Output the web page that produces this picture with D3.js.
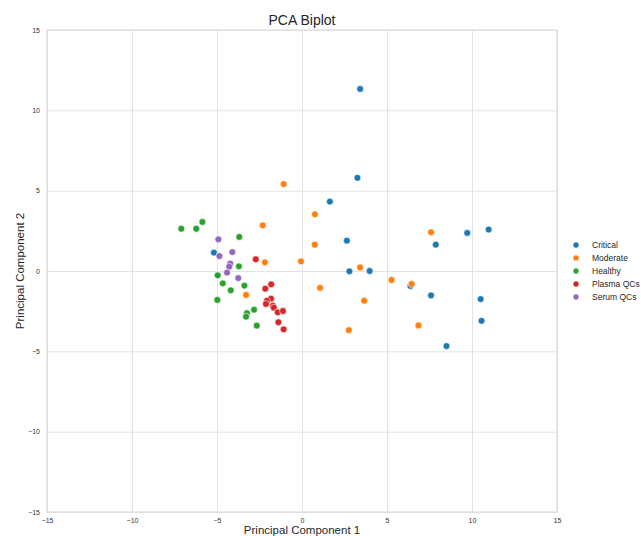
<!DOCTYPE html>
<html>
<head>
<meta charset="utf-8">
<script src="https://cdn.jsdelivr.net/npm/d3@7"></script>
<style>
  body { margin: 0; background: #fff; }
  svg { display: block; font-family: "Liberation Sans", Arial, sans-serif; }
</style>
</head>
<body>
<div id="chart"></div>
<script>
// Group order as in the legend
const groups = ["Critical", "Moderate", "Healthy", "Plasma QCs", "Serum QCs"]
const colors = ["#1f77b4", "#ff7f0e", "#2ca02c", "#d62728", "#9467bd"]

// PC1 / PC2 scores
const criticalPC1 = [3.42, 3.26, 1.64, 2.64, 2.79, 3.98, 7.87, 9.72, 10.98, 6.38, 7.59, 10.51, 10.56, 8.5, -5.18]
const criticalPC2 = [11.33, 5.8, 4.32, 1.89, -0.02, 0.0, 1.64, 2.37, 2.58, -0.93, -1.52, -1.75, -3.1, -4.67, 1.14]

const moderatePC1 = [0.76, 0.75, -0.06, 3.42, 1.06, 3.66, 2.75, 7.59, 5.27, 6.45, 6.85, -1.08, -2.31, -2.18, -3.29]
const moderatePC2 = [3.53, 1.64, 0.6, 0.22, -1.05, -1.85, -3.68, 2.41, -0.56, -0.81, -3.39, 5.41, 2.84, 0.54, -1.49]

const healthyPC1 = [-7.1, -6.22, -5.86, -3.69, -3.71, -4.96, -4.66, -4.19, -3.39, -4.98, -2.82, -3.24, -3.29, -2.66]
const healthyPC2 = [2.63, 2.63, 3.05, 2.12, 0.29, -0.27, -0.77, -1.2, -0.91, -1.8, -2.41, -2.63, -2.84, -3.4]

const plasmaPC1 = [-2.72, -1.81, -2.16, -1.82, -2.06, -2.12, -1.71, -1.66, -1.43, -1.12, -1.39, -1.08]
const plasmaPC2 = [0.73, -0.83, -1.1, -1.72, -1.85, -2.05, -2.16, -2.28, -2.57, -2.49, -3.19, -3.63]

const serumPC1 = [-4.92, -4.86, -4.1, -4.22, -4.28, -4.41, -3.75]
const serumPC2 = [1.97, 0.93, 1.18, 0.46, 0.27, -0.1, -0.44]

const xTicks = [-15, -10, -5, 0, 5, 10, 15]
const yTicks = [-15, -10, -5, 0, 5, 10, 15]

const seriesX = [criticalPC1, moderatePC1, healthyPC1, plasmaPC1, serumPC1]
const seriesY = [criticalPC2, moderatePC2, healthyPC2, plasmaPC2, serumPC2]

const points = []
groups.forEach((g, i) => {
  seriesX[i].forEach((x, j) => points.push({ group: g, x: x, y: seriesY[i][j] }))
})

const width = 641, height = 536
const margin = { top: 30, right: 84, bottom: 24, left: 47 }
const innerW = width - margin.left - margin.right
const innerH = height - margin.top - margin.bottom

const svg = d3.select("#chart").append("svg")
  .attr("width", width)
  .attr("height", height)

const g = svg.append("g")
  .attr("transform", `translate(${margin.left},${margin.top})`)

const x = d3.scaleLinear().domain([-15, 15]).range([0, innerW])
const y = d3.scaleLinear().domain([-15, 15]).range([innerH, 0])
const color = d3.scaleOrdinal().domain(groups).range(colors)

// Grid lines
g.append("g")
  .attr("transform", `translate(0,${innerH})`)
  .call(d3.axisBottom(x).tickValues(xTicks).tickSize(-innerH).tickFormat(""))
  .call(a => a.select(".domain").remove())
  .selectAll("line")
  .style("stroke", "#e3e3e3")
  .style("stroke-width", 1)

g.append("g")
  .call(d3.axisLeft(y).tickValues(yTicks).tickSize(-innerW).tickFormat(""))
  .call(a => a.select(".domain").remove())
  .selectAll("line")
  .style("stroke", "#e3e3e3")
  .style("stroke-width", 1)

// Frame
g.append("rect")
  .attr("width", innerW)
  .attr("height", innerH)
  .style("fill", "none")
  .style("stroke", "#dcdcdc")
  .style("stroke-width", 1.2)

// Tick labels
const fmt = d => d < 0 ? "\u2212" + Math.abs(d) : String(d)

g.append("g")
  .attr("transform", `translate(0,${innerH})`)
  .call(d3.axisBottom(x).tickValues(xTicks).tickSize(0).tickPadding(6).tickFormat(fmt))
  .call(a => a.select(".domain").remove())
  .selectAll("text")
  .style("font-size", "7px")
  .style("fill", "#333")

g.append("g")
  .call(d3.axisLeft(y).tickValues(yTicks).tickSize(0).tickPadding(7).tickFormat(fmt))
  .call(a => a.select(".domain").remove())
  .selectAll("text")
  .style("font-size", "7px")
  .style("fill", "#333")

// Points
g.selectAll(".dot")
  .data(points)
  .enter()
  .append("circle")
  .attr("class", "dot")
  .attr("cx", d => x(d.x))
  .attr("cy", d => y(d.y))
  .attr("r", 3.4)
  .style("fill", d => color(d.group))
  .style("stroke", "#fff")
  .style("stroke-width", 0.6)

// Title and axis labels
svg.append("text")
  .attr("x", margin.left + innerW / 2)
  .attr("y", 25)
  .attr("text-anchor", "middle")
  .style("font-size", "14px")
  .style("fill", "#262626")
  .text("PCA Biplot")

svg.append("text")
  .attr("x", margin.left + innerW / 2)
  .attr("y", 534)
  .attr("text-anchor", "middle")
  .style("font-size", "11.5px")
  .style("fill", "#262626")
  .text("Principal Component 1")

svg.append("text")
  .attr("transform", `translate(24,${margin.top + innerH / 2}) rotate(-90)`)
  .attr("text-anchor", "middle")
  .style("font-size", "11.5px")
  .style("fill", "#262626")
  .text("Principal Component 2")

// Legend
const legend = svg.append("g")
  .attr("transform", "translate(576,245)")

const item = legend.selectAll(".legend-item")
  .data(groups)
  .enter()
  .append("g")
  .attr("class", "legend-item")
  .attr("transform", (d, i) => `translate(0,${i * 13})`)

item.append("circle")
  .attr("r", 3)
  .style("fill", d => color(d))
  .style("stroke", "#fff")
  .style("stroke-width", 0.5)

item.append("text")
  .attr("x", 16)
  .attr("dy", "0.35em")
  .style("font-size", "8.5px")
  .style("fill", "#262626")
  .text(d => d)
</script>
</body>
</html>
